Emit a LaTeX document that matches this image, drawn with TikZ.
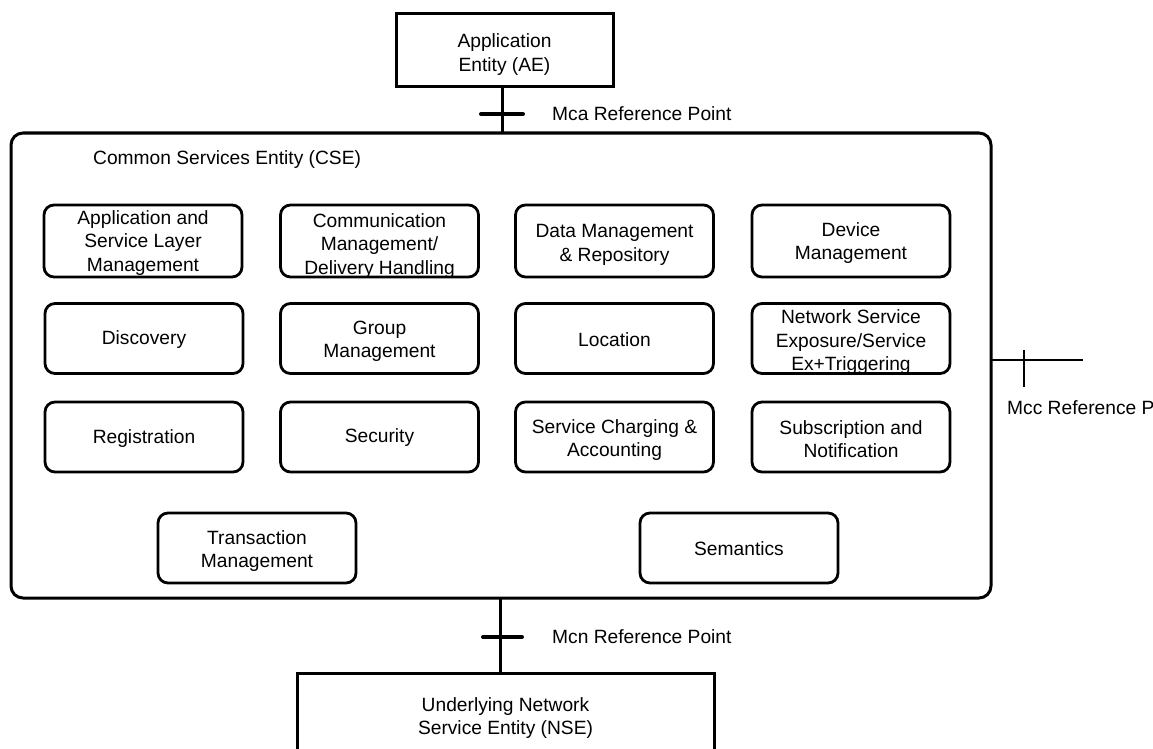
\documentclass[tikz,border=0pt]{standalone}
\usepackage{fontspec}
\setmainfont{Liberation Sans}
\newcommand\dfont{\fontsize{19.2}{23.5}\selectfont}
\newcommand\lowr[2]{\raisebox{-#1}[\height][\depth]{\parbox{192pt}{\centering #2}}}
\begin{document}
\begin{tikzpicture}[x=1pt,y=-1pt,
  fbox/.style={draw, line width=2.8pt, rounded corners=10pt, minimum width=198pt,
    minimum height=70pt, align=center, font=\dfont, inner sep=0pt},
  ebox/.style={draw, line width=3pt, align=center, font=\dfont, inner sep=0pt},
  cse/.style={draw, line width=3pt, rounded corners=12pt, minimum width=980pt,
    minimum height=465pt, inner sep=0pt},
  lbl/.style={font=\dfont, inner sep=0pt, anchor=west},
  conn/.style={line width=3pt},
  tick/.style={line width=4pt, line cap=round},
  thin/.style={line width=2.2pt}]
\useasboundingbox (0,0) rectangle (1153,749);
\clip (0,0) rectangle (1153,749);
\fill[white] (0,0) rectangle (1153,749);

% Application Entity
\node[ebox, minimum width=217pt, minimum height=73pt] (ae) at (504.5,50.5) {\lowr{4pt}{Application\\Entity (AE)}};

% CSE
\node[cse] (cse) at (501,365.5) {};
\node[lbl] (cselbl) at (93,160) {Common Services Entity (CSE)};

% Mca
\coordinate (mcatop) at (502,87);
\coordinate (mcabot) at (502,133);
\coordinate (mcatick) at (502,114);
\draw[conn] (mcatop) -- (mcabot);
\draw[tick] ([xshift=-21pt]mcatick) -- ([xshift=21pt]mcatick);
\node[lbl] (mca) at (552,114) {Mca Reference Point};

% functional boxes
\node[fbox, minimum height=72pt] (b11) at (143,241) {\lowr{2pt}{Application and\\Service Layer\\Management}};
\node[fbox, minimum height=72pt] (b12) at (379.5,241) {\lowr{5pt}{Communication\\Management/\\Delivery Handling}};
\node[fbox, minimum height=72pt] (b13) at (614.5,241) {\lowr{4pt}{Data Management\\\& Repository}};
\node[fbox, minimum height=72pt] (b14) at (851,241) {\lowr{2pt}{Device\\Management}};

\node[fbox] (b21) at (144,338.5) {\lowr{1pt}{Discovery}};
\node[fbox] (b22) at (379.5,338.5) {\lowr{3pt}{Group\\Management}};
\node[fbox] (b23) at (614.5,338.5) {\lowr{1pt}{Location}};
\node[fbox] (b24) at (851,338.5) {\lowr{4pt}{Network Service\\Exposure/Service\\Ex+Triggering}};

\node[fbox] (b31) at (144,437) {\lowr{2pt}{Registration}};
\node[fbox] (b32) at (379.5,437) {\lowr{1pt}{Security}};
\node[fbox] (b33) at (614.5,437) {\lowr{3pt}{Service Charging \&\\Accounting}};
\node[fbox] (b34) at (851,437) {\lowr{2pt}{Subscription and\\Notification}};

\node[fbox] (b41) at (257,548) {\lowr{3pt}{Transaction\\Management}};
\node[fbox] (b42) at (739,548) {\lowr{1pt}{Semantics}};

% Mcc
\coordinate (mccin) at (991,360);
\coordinate (mccout) at (1083,360);
\coordinate (mcct1) at (1024,350);
\coordinate (mcct2) at (1024,387);
\draw[thin] (mccin) -- (mccout);
\draw[thin] (mcct1) -- (mcct2);
\node[lbl] (mcc) at (1007,408) {Mcc Reference Point};

% NSE
\node[ebox, minimum width=417pt, minimum height=110pt] (nse) at (505.5,728) {};
\node[font=\dfont, align=center, inner sep=0pt] (nsetxt) at (505.5,718) {Underlying Network\\Service Entity (NSE)};

% Mcn
\coordinate (mcntop) at (500,598);
\coordinate (mcnbot) at (500,673);
\coordinate (mcntick) at (500,637);
\draw[conn] (mcntop) -- (mcnbot);
\draw[tick] ([xshift=-17pt]mcntick) -- ([xshift=22pt]mcntick);
\node[lbl] (mcn) at (552,637) {Mcn Reference Point};
\end{tikzpicture}
\end{document}
